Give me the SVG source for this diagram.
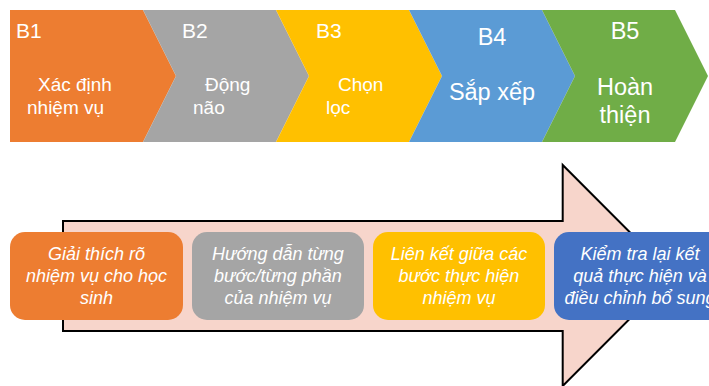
<svg xmlns="http://www.w3.org/2000/svg" width="709" height="386" viewBox="0 0 709 386">
<style>
  .t { font-family: "Liberation Sans", Arial, sans-serif; fill: #ffffff; }
  .lbl { font-size: 21px; }
  .body { font-size: 19px; }
  .big { font-size: 23.5px; text-anchor: middle; }
  .it { font-size: 18px; font-style: italic; text-anchor: middle; }
  .box { rx: 15; ry: 15; }
</style>
<rect width="709" height="386" fill="#ffffff"/>

<g id="connectors">
  <path id="big-arrow" d="M63,221 H562.7 V165 L673,275.5 L562.7,386 V331 H63 Z" fill="#F7D5CB" stroke="#000000" stroke-width="2" stroke-linejoin="miter"/>
</g>

<g id="B1">
  <polygon points="10,10 143,10 176,76 143,142 10,142" fill="#ED7D31"/>
  <text class="t lbl" x="16" y="38">B1</text>
  <text class="t body" x="38" y="91">Xác định</text>
  <text class="t body" x="27" y="114">nhiệm vụ</text>
</g>
<g id="B2">
  <polygon points="143,10 276,10 309,76 276,142 143,142 176,76" fill="#A5A5A5"/>
  <text class="t lbl" x="182" y="38">B2</text>
  <text class="t body" x="205" y="91">Động</text>
  <text class="t body" x="193" y="114">não</text>
</g>
<g id="B3">
  <polygon points="276,10 409,10 442,76 409,142 276,142 309,76" fill="#FFC000"/>
  <text class="t lbl" x="316" y="38">B3</text>
  <text class="t body" x="338" y="91">Chọn</text>
  <text class="t body" x="326" y="114">lọc</text>
</g>
<g id="B4">
  <polygon points="409,10 542,10 575,76 542,142 409,142 442,76" fill="#5B9BD5"/>
  <text class="t big" x="492" y="45">B4</text>
  <text class="t big" x="492" y="100">Sắp xếp</text>
</g>
<g id="B5">
  <polygon points="542,10 675,10 708,76 675,142 542,142 575,76" fill="#70AD47"/>
  <text class="t big" x="625" y="39">B5</text>
  <text class="t big" x="625" y="95">Hoàn</text>
  <text class="t big" x="625" y="123">thiện</text>
</g>

<g id="box1">
  <rect class="box" x="10" y="232" width="173" height="88" fill="#ED7D31"/>
  <text class="t it" x="96.5" y="260">Giải thích rõ</text>
  <text class="t it" x="96.5" y="282">nhiệm vụ cho học</text>
  <text class="t it" x="96.5" y="304">sinh</text>
</g>
<g id="box2">
  <rect class="box" x="192" y="232" width="172" height="88" fill="#A5A5A5"/>
  <text class="t it" x="278" y="260">Hướng dẫn từng</text>
  <text class="t it" x="278" y="282">bước/từng phần</text>
  <text class="t it" x="278" y="304">của nhiệm vụ</text>
</g>
<g id="box3">
  <rect class="box" x="373" y="232" width="172" height="88" fill="#FFC000"/>
  <text class="t it" x="459" y="260">Liên kết giữa các</text>
  <text class="t it" x="459" y="282">bước thực hiện</text>
  <text class="t it" x="459" y="304">nhiệm vụ</text>
</g>
<g id="box4">
  <rect class="box" x="554" y="232" width="172" height="88" fill="#4472C4"/>
  <text class="t it" x="640" y="260">Kiểm tra lại kết</text>
  <text class="t it" x="640" y="282">quả thực hiện và</text>
  <text class="t it" x="640" y="304">điều chỉnh bổ sung</text>
</g>
</svg>
